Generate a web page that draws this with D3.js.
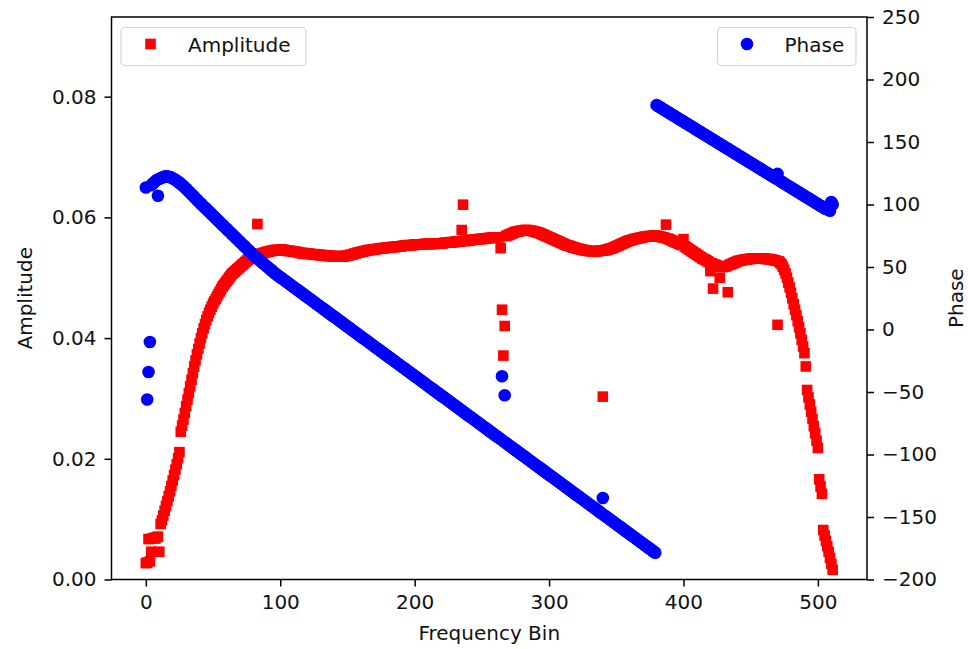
<!DOCTYPE html>
<html>
<head>
<meta charset="utf-8">
<script src="https://cdn.jsdelivr.net/npm/d3@7"></script>
<style>
  body { margin: 0; background: #fff; }
  text { font-family: "DejaVu Sans", sans-serif; fill: #111; }
</style>
</head>
<body>
<svg id="chart" width="968" height="649"></svg>
<script>
// amplitude per frequency bin (index = bin)
const amplitude = [
  .0027, .0028, .0067, .0030, .0046, .0068, .0069, .0068, .0070, .0071, .0046, .0092, .0098, .0106, .0114, .0122,
  .0130, .0138, .0146, .0155, .0164, .0173, .0182, .0191, .0201, .0211, .0245, .0255, .0265, .0276, .0287, .0298,
  .0309, .0320, .0331, .0342, .0353, .0363, .0373, .0382, .0391, .0400, .0408, .0416, .0423, .0430, .0436, .0442,
  .0447, .0452, .0457, .0461, .0465, .0469, .0473, .0477, .0481, .0485, .0488, .0491, .0494, .0497, .0500, .0503,
  .0506, .0508, .0510, .0512, .0514, .0516, .0518, .0520, .0522, .0524, .0526, .0528, .0530, .0531, .0532, .0533,
  .0534, .0535, .0536, .0589, .0538, .0539, .0540, .0541, .0541, .0542, .0543, .0543, .0544, .0544, .0545, .0545,
  .0546, .0546, .0546, .0546, .0546, .0547, .0546, .0546, .0545, .0545, .0544, .0545, .0544, .0544, .0543, .0543,
  .0543, .0542, .0542, .0541, .0541, .0540, .0541, .0540, .0540, .0539, .0540, .0539, .0539, .0538, .0539, .0538,
  .0538, .0538, .0537, .0538, .0537, .0537, .0536, .0537, .0536, .0536, .0536, .0535, .0536, .0535, .0536, .0535,
  .0535, .0535, .0536, .0535, .0536, .0536, .0537, .0537, .0538, .0538, .0539, .0540, .0540, .0541, .0542, .0542,
  .0543, .0543, .0544, .0544, .0545, .0545, .0546, .0546, .0546, .0547, .0547, .0547, .0548, .0548, .0548, .0549,
  .0549, .0549, .0549, .0550, .0550, .0550, .0550, .0551, .0551, .0551, .0551, .0552, .0552, .0552, .0552, .0553,
  .0553, .0553, .0553, .0554, .0554, .0554, .0554, .0554, .0555, .0555, .0555, .0555, .0555, .0555, .0555, .0556,
  .0556, .0556, .0556, .0556, .0556, .0556, .0556, .0556, .0557, .0557, .0557, .0557, .0557, .0557, .0558, .0558,
  .0558, .0558, .0558, .0559, .0559, .0559, .0559, .0560, .0560, .0560, .0560, .0579, .0621, .0561, .0561, .0561,
  .0562, .0562, .0562, .0563, .0563, .0563, .0563, .0564, .0564, .0564, .0564, .0565, .0565, .0565, .0565, .0566,
  .0566, .0566, .0566, .0567, .0567, .0567, .0567, .0567, .0549, .0447, .0371, .0420, .0569, .0570, .0571, .0572,
  .0573, .0574, .0575, .0576, .0576, .0577, .0577, .0578, .0578, .0578, .0579, .0579, .0579, .0578, .0578, .0578,
  .0577, .0577, .0576, .0575, .0575, .0574, .0573, .0572, .0571, .0570, .0569, .0568, .0567, .0566, .0565, .0564,
  .0563, .0562, .0561, .0560, .0559, .0558, .0557, .0556, .0555, .0554, .0553, .0553, .0552, .0551, .0550, .0550,
  .0549, .0548, .0548, .0547, .0547, .0546, .0546, .0545, .0545, .0545, .0544, .0544, .0544, .0544, .0544, .0544,
  .0544, .0544, .0545, .0545, .0303, .0545, .0546, .0546, .0547, .0548, .0548, .0549, .0550, .0551, .0552, .0553,
  .0554, .0555, .0556, .0557, .0558, .0559, .0560, .0561, .0562, .0562, .0563, .0564, .0564, .0565, .0565, .0566,
  .0566, .0567, .0567, .0568, .0568, .0568, .0569, .0569, .0569, .0569, .0570, .0570, .0569, .0569, .0568, .0568,
  .0567, .0567, .0566, .0588, .0565, .0564, .0563, .0562, .0561, .0560, .0559, .0558, .0557, .0556, .0555, .0554,
  .0564, .0552, .0550, .0549, .0547, .0546, .0544, .0543, .0541, .0540, .0538, .0537, .0535, .0534, .0532, .0531,
  .0530, .0529, .0527, .0526, .0511, .0524, .0482, .0522, .0521, .0520, .0519, .0500, .0518, .0518, .0518, .0519,
  .0519, .0476, .0521, .0522, .0523, .0524, .0525, .0526, .0527, .0528, .0528, .0529, .0529, .0530, .0530, .0530,
  .0531, .0531, .0531, .0532, .0532, .0532, .0532, .0532, .0532, .0532, .0532, .0532, .0532, .0531, .0531, .0531,
  .0531, .0530, .0530, .0529, .0529, .0528, .0422, .0527, .0525, .0522, .0518, .0513, .0507, .0500, .0492, .0484,
  .0475, .0466, .0456, .0447, .0438, .0428, .0418, .0408, .0397, .0386, .0375, .0353, .0314, .0302, .0290, .0278,
  .0266, .0254, .0242, .0230, .0218, .0166, .0154, .0142, .0082, .0073, .0064, .0055, .0046, .0036, .0026, .0016
];

// phase per frequency bin (degrees)
const phase = [
  113.6, -56, -34, -10, 115.5, 116.5, 117.5, 118.5, 119.5, 107, 120.5, 121, 121.5, 122, 122.3, 122.5,
  122.4, 122.2, 121.9, 121.5, 121.0, 120.4, 119.7, 119.0, 118.2, 117.4, 116.5, 115.6, 114.6, 113.6, 112.6, 111.5,
  110.4, 109.3, 108.2, 107.1, 106.0, 104.9, 103.8, 102.7, 101.6, 100.6, 99.5, 98.4, 97.4, 96.4, 95.3, 94.3,
  93.2, 92.2, 91.1, 90.1, 89.0, 88.0, 86.9, 85.9, 84.8, 83.8, 82.7, 81.7, 80.6, 79.6, 78.5, 77.5,
  76.4, 75.4, 74.3, 73.3, 72.2, 71.2, 70.1, 69.1, 68.0, 67.0, 65.9, 64.9, 63.8, 62.8, 61.7, 60.7,
  59.6, 58.7, 57.8, 56.9, 56.0, 55.1, 54.1, 53.2, 52.3, 51.4, 50.5, 49.6, 48.7, 47.8, 46.8, 45.9,
  45.0, 44.2, 43.4, 42.6, 41.8, 41.1, 40.3, 39.5, 38.7, 37.9, 37.1, 36.3, 35.5, 34.7, 33.9, 33.1,
  32.4, 31.6, 30.8, 30.0, 29.2, 28.4, 27.6, 26.8, 26.0, 25.3, 24.5, 23.7, 22.9, 22.1, 21.3, 20.5,
  19.7, 18.9, 18.1, 17.4, 16.6, 15.8, 15.0, 14.2, 13.4, 12.6, 11.8, 11.0, 10.2, 9.5, 8.7, 7.9,
  7.1, 6.3, 5.5, 4.7, 3.9, 3.1, 2.3, 1.6, 0.8, 0.0, -0.8, -1.6, -2.4, -3.2, -4.0, -4.7,
  -5.6, -6.4, -7.1, -7.9, -8.7, -9.5, -10.3, -11.1, -11.9, -12.7, -13.5, -14.3, -15.0, -15.8, -16.6, -17.4,
  -18.2, -19.0, -19.8, -20.6, -21.4, -22.2, -22.9, -23.7, -24.5, -25.3, -26.1, -26.9, -27.7, -28.5, -29.3, -30.1,
  -30.8, -31.6, -32.4, -33.2, -34.0, -34.8, -35.6, -36.4, -37.2, -38.0, -38.7, -39.5, -40.3, -41.1, -41.9, -42.7,
  -43.5, -44.3, -45.1, -45.9, -46.6, -47.4, -48.2, -49.0, -49.8, -50.6, -51.4, -52.2, -53.0, -53.8, -54.5, -55.3,
  -56.1, -56.9, -57.7, -58.5, -59.3, -60.1, -60.9, -61.7, -62.4, -63.2, -64.0, -64.8, -65.6, -66.4, -67.2, -68.0,
  -68.8, -69.6, -70.3, -71.1, -71.9, -72.7, -73.5, -74.3, -75.1, -75.9, -76.7, -77.5, -78.2, -79.0, -79.8, -80.6,
  -81.4, -82.2, -83.0, -83.8, -84.6, -85.4, -86.1, -86.9, -87.7, -37.4, -89.3, -52.6, -90.9, -91.7, -92.5, -93.3,
  -94.0, -94.8, -95.6, -96.4, -97.2, -98.0, -98.8, -99.6, -100.4, -101.2, -101.9, -102.7, -103.5, -104.3, -105.1, -105.9,
  -106.7, -107.5, -108.3, -109.1, -109.8, -110.6, -111.4, -112.2, -113.0, -113.8, -114.6, -115.4, -116.2, -117.0, -117.7, -118.5,
  -119.3, -120.1, -120.9, -121.7, -122.5, -123.3, -124.1, -124.9, -125.6, -126.4, -127.2, -128.0, -128.8, -129.6, -130.4, -131.2,
  -132.0, -132.8, -133.5, -134.3, -135.1, -135.9, -136.7, -137.5, -138.3, -139.1, -139.9, -140.7, -141.4, -142.2, -143.0, -143.8,
  -144.6, -145.4, -146.2, -147.0, -134.8, -148.6, -149.3, -150.1, -150.9, -151.7, -152.5, -153.3, -154.1, -154.9, -155.7, -156.5,
  -157.2, -158.0, -158.8, -159.6, -160.4, -161.2, -162.0, -162.8, -163.6, -164.4, -165.1, -165.9, -166.7, -167.5, -168.3, -169.1,
  -169.9, -170.7, -171.5, -172.3, -173.0, -173.8, -174.6, -175.4, -176.2, -177.0, -177.8, -178.6, 179.5, 178.8, 178.2, 177.5,
  176.9, 176.2, 175.5, 174.9, 174.2, 173.6, 172.9, 172.2, 171.6, 170.9, 170.3, 169.6, 168.9, 168.3, 167.6, 167.0,
  166.3, 165.6, 165.0, 164.3, 163.7, 163.0, 162.3, 161.7, 161.0, 160.4, 159.7, 159.0, 158.4, 157.7, 157.1, 156.4,
  155.7, 155.1, 154.4, 153.8, 153.1, 152.4, 151.8, 151.1, 150.5, 149.8, 149.1, 148.5, 147.8, 147.2, 146.5, 145.8,
  145.2, 144.5, 143.9, 143.2, 142.5, 141.9, 141.2, 140.6, 139.9, 139.2, 138.6, 137.9, 137.3, 136.6, 135.9, 135.3,
  134.6, 134.0, 133.3, 132.6, 132.0, 131.3, 130.7, 130.0, 129.3, 128.7, 128.0, 127.4, 126.7, 126.0, 125.4, 124.7,
  124.1, 123.4, 122.7, 122.1, 121.4, 120.8, 124.5, 119.5, 118.8, 118.2, 117.5, 116.8, 116.1, 115.5, 114.8, 114.2,
  113.5, 112.8, 112.2, 111.5, 110.9, 110.2, 109.5, 108.9, 108.2, 107.6, 106.9, 106.2, 105.6, 104.9, 104.3, 103.6,
  102.9, 102.3, 101.6, 101.0, 100.3, 99.6, 99.0, 98.3, 97.7, 97.0, 96.6, 96.2, 96.0, 95.0, 102.0, 100.0
];

const xTicks = [0, 100, 200, 300, 400, 500];
const ampTicks = [0, 0.02, 0.04, 0.06, 0.08];
const phaseTicks = [-200, -150, -100, -50, 0, 50, 100, 150, 200, 250];

const margin = { top: 17, right: 101, bottom: 69.5, left: 111.5 };
const svg = d3.select('#chart');
const width = +svg.attr('width');
const height = +svg.attr('height');
const innerW = width - margin.left - margin.right;
const innerH = height - margin.top - margin.bottom;

const g = svg.append('g')
    .attr('transform', `translate(${margin.left},${margin.top})`);

// scales (x has matplotlib-like 5% margins around 0..511)
const xScale = d3.scaleLinear().domain([-25.55, 536.55]).range([0, innerW]);
const yAmp = d3.scaleLinear().domain([0, 0.0932]).range([innerH, 0]);
const yPhase = d3.scaleLinear().domain([-200, 250]).range([innerH, 0]);

// amplitude squares
const sq = 10.6;
g.append('g').selectAll('rect')
    .data(amplitude)
    .join('rect')
    .attr('x', (d, i) => xScale(i) - sq / 2)
    .attr('y', d => yAmp(d) - sq / 2)
    .attr('width', sq)
    .attr('height', sq)
    .attr('fill', '#ff0000');

// phase circles (on top, twin axis)
g.append('g').selectAll('circle')
    .data(phase)
    .join('circle')
    .attr('cx', (d, i) => xScale(i))
    .attr('cy', d => yPhase(d))
    .attr('r', 6.3)
    .attr('fill', '#0000ff');

// axes
function styleAxis(sel) {
    sel.select('.domain').remove();
    sel.selectAll('.tick line').attr('stroke', '#000').attr('stroke-width', 1.5);
    sel.selectAll('.tick text').style('font-size', '20px').attr('fill', '#111');
}

g.append('g')
    .attr('transform', `translate(0,${innerH})`)
    .call(d3.axisBottom(xScale).tickValues(xTicks).tickSize(7).tickPadding(8).tickFormat(d3.format('d')))
    .call(styleAxis);

g.append('g')
    .call(d3.axisLeft(yAmp).tickValues(ampTicks).tickSize(7).tickPadding(8).tickFormat(d3.format('.2f')))
    .call(styleAxis);

g.append('g')
    .attr('transform', `translate(${innerW},0)`)
    .call(d3.axisRight(yPhase).tickValues(phaseTicks).tickSize(7).tickPadding(8).tickFormat(d3.format('d')))
    .call(styleAxis);

// spines
g.append('rect')
    .attr('width', innerW)
    .attr('height', innerH)
    .attr('fill', 'none')
    .attr('stroke', '#000')
    .attr('stroke-width', 1.5);

// axis labels
svg.append('text')
    .attr('x', margin.left + innerW / 2)
    .attr('y', 640)
    .attr('text-anchor', 'middle')
    .style('font-size', '20px')
    .text('Frequency Bin');

svg.append('text')
    .attr('transform', `translate(32,${margin.top + innerH / 2}) rotate(-90)`)
    .attr('text-anchor', 'middle')
    .style('font-size', '20px')
    .text('Amplitude');

svg.append('text')
    .attr('transform', `translate(963,${margin.top + innerH / 2}) rotate(-90)`)
    .attr('text-anchor', 'middle')
    .style('font-size', '20px')
    .text('Phase');

// legends
function legend(x, w, label, drawMarker) {
    const lg = svg.append('g').attr('transform', `translate(${x},27.5)`);
    lg.append('rect')
        .attr('width', w).attr('height', 38)
        .attr('rx', 4)
        .attr('fill', '#fff').attr('fill-opacity', 0.8)
        .attr('stroke', '#d6d6d6').attr('stroke-width', 1.2);
    drawMarker(lg);
    lg.append('text')
        .attr('x', 67).attr('y', 24)
        .style('font-size', '20px')
        .text(label);
}

legend(121, 185, 'Amplitude', lg => lg.append('rect')
    .attr('x', 29.5 - sq / 2).attr('y', 16.5 - sq / 2)
    .attr('width', sq).attr('height', sq).attr('fill', '#ff0000'));

legend(717.5, 138.5, 'Phase', lg => lg.append('circle')
    .attr('cx', 29.5).attr('cy', 16.5).attr('r', 6.3).attr('fill', '#0000ff'));
</script>
</body>
</html>
